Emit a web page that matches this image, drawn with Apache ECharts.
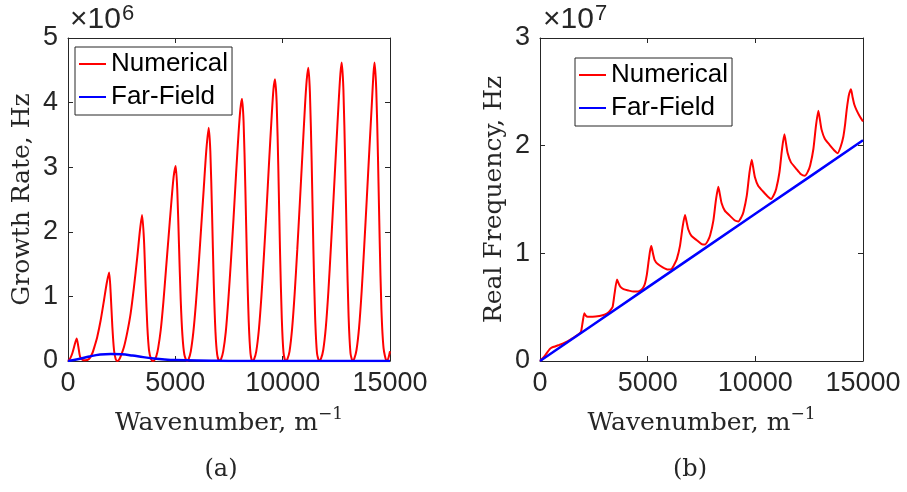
<!DOCTYPE html>
<html><head><meta charset="utf-8">
<script src="https://cdn.jsdelivr.net/npm/echarts@6/dist/echarts.min.js"></script>
<style>html,body{margin:0;padding:0;background:#fff}#c{width:907px;height:492px}</style>
</head><body><div id="c"></div>
<script>
// ---------- data ----------
const xTicks = [0, 5000, 10000, 15000];
const growthTicks = [0, 1, 2, 3, 4, 5];      // x10^6 Hz
const freqTicks = [0, 1, 2, 3];              // x10^7 Hz
const seriesNames = ['Numerical', 'Far-Field'];
const captions = ['(a)', '(b)'];

// Panel (a): growth rate, units of 1e6 Hz
const growthK = [0,100,202,326,405,482,560,667,800,978,
 1133,1250,1367,1522,1677,1801,1915,1988,2066,2143,2221,2299,
 2380,2454,2610,2765,2920,3075,3230,3354,3450,3540,3618,3696,3773,3870,3960,
 4040,4120,4200,4320,4440,4560,4680,4800,4920,5016,5090,5170,5250,5330,5420,5540,
 5620,5720,5840,5960,6080,6200,6320,6440,6553,6630,6710,6790,6870,6950,7050,
 7130,7230,7350,7470,7590,7710,7830,7950,8030,8106,8180,8260,8340,8420,8500,8587,
 8670,8770,8890,9010,9130,9250,9370,9490,9570,9643,9720,9800,9880,9960,10040,10140,
 10220,10320,10440,10560,10680,10800,10920,11040,11120,11196,11270,11350,11430,11510,11600,11707,
 11790,11890,12010,12130,12250,12370,12490,12610,12690,12750,12830,12910,12990,13070,13160,13262,
 13340,13440,13560,13680,13800,13920,14040,14160,14230,14280,14360,14440,14520,14600,14700,14845,14930,15000];
const growthNumerical = [0,0.04,0.12,0.27,0.35,0.22,0.07,0.02,0.01,0.03,
 0.12,0.24,0.38,0.63,0.94,1.2,1.37,1.05,0.53,0.17,0.03,0,
 0.02,0.07,0.22,0.45,0.74,1.15,1.62,2.03,2.26,1.87,1.15,0.53,0.17,0.03,0,
 0.02,0.08,0.20,0.48,0.90,1.40,1.90,2.40,2.85,3.02,2.65,1.80,0.95,0.40,0.10,0,
 0.03,0.15,0.45,0.90,1.45,2.05,2.65,3.25,3.61,3.25,2.30,1.20,0.45,0.10,0,
 0.03,0.15,0.45,0.95,1.55,2.2,2.9,3.55,3.9,4.06,3.7,2.7,1.5,0.6,0.12,0,
 0.03,0.15,0.48,1.0,1.65,2.35,3.1,3.8,4.2,4.36,4.0,2.95,1.65,0.65,0.13,0,
 0.03,0.15,0.5,1.05,1.72,2.45,3.2,3.95,4.35,4.54,4.15,3.1,1.75,0.7,0.12,0,
 0.04,0.17,0.52,1.08,1.78,2.52,3.28,4.02,4.45,4.62,4.2,3.1,1.75,0.7,0.12,0,
 0.04,0.17,0.52,1.08,1.78,2.52,3.28,4.02,4.45,4.62,4.2,3.15,1.85,0.8,0.2,0,0.05,0.15];
const growthFarK = [0,500,1000,1500,2000,2500,3000,3500,4000,4500,5000,6000,7000,8000,10000,15000];
const growthFarField = [0,0.03,0.07,0.10,0.11,0.105,0.085,0.06,0.04,0.025,0.015,0.006,0.003,0.001,0,0];

// Panel (b): real frequency, units of 1e7 Hz
const freqK = [0,150,300,450,540,700,900,1100,1300,1500,1700,
 1800,1904,1980,2059,2130,2214,2446,2755,2987,
 3100,3200,3300,3375,3466,3576,3651,3726,3876,4106,4346,4550,
 4690,4790,4876,4960,5031,5110,5170,5245,5320,5470,5700,5940,6113,
 6253,6353,6503,6623,6733,6808,6883,7033,7263,7503,7661,
 7801,7901,8051,8171,8281,8356,8431,8581,8811,9051,9211,
 9351,9451,9601,9721,9831,9906,9981,10131,10361,10601,10730,
 10870,10970,11120,11240,11350,11425,11500,11650,11880,12120,12306,
 12446,12546,12696,12816,12926,13001,13076,13226,13456,13696,13822,
 13962,14086,14170,14241,14310,14365,14442,14517,14600,14700,14860,15000];
const freqNumerical = [0,0.03,0.07,0.11,0.125,0.135,0.15,0.165,0.185,0.21,0.235,
 0.25,0.272,0.36,0.443,0.42,0.411,0.411,0.418,0.43,
 0.44,0.455,0.48,0.504,0.63,0.758,0.72,0.69,0.668,0.655,0.645,0.645,
 0.66,0.68,0.72,0.80,0.907,1.02,1.068,1.0,0.94,0.9,0.87,0.85,0.855,
 0.903,0.946,1.072,1.245,1.356,1.292,1.224,1.162,1.124,1.086,1.081,
 1.119,1.167,1.304,1.496,1.618,1.545,1.468,1.397,1.350,1.305,1.296,
 1.336,1.387,1.533,1.739,1.870,1.791,1.706,1.627,1.574,1.523,1.505,
 1.547,1.599,1.753,1.968,2.105,2.021,1.932,1.847,1.790,1.734,1.721,
 1.762,1.815,1.969,2.186,2.324,2.239,2.149,2.064,2.006,1.950,1.93,
 1.99,2.083,2.2,2.33,2.43,2.486,2.525,2.45,2.38,2.33,2.268,2.225];
const freqFarK = [0,2500,5000,7500,10000,12500,15000];
const freqFarField = [0,0.342,0.684,1.025,1.367,1.708,2.05];

// ---------- chart ----------
const zip = (a, b) => a.map((v, i) => [v, b[i]]);
const axisColor = '#262626';
const tickFont = { fontFamily: 'Liberation Sans, Arial', fontSize: 27, color: '#262626' };
const serif = 'DejaVu Serif';

function xAxis(grid, pos, name) {
  const main = pos === 'bottom';
  return {
    type: 'value', gridIndex: grid, position: pos,
    min: xTicks[0], max: xTicks[xTicks.length - 1], interval: xTicks[1] - xTicks[0],
    axisLine: { show: true, onZero: false, lineStyle: { color: axisColor, width: 1 } },
    axisTick: { show: true, inside: true, length: 5, lineStyle: { color: axisColor } },
    axisLabel: Object.assign({ show: main, margin: 9, formatter: v => String(v) }, tickFont),
    splitLine: { show: false },
    name: main ? name : '', nameLocation: 'middle', nameGap: 45,
    nameTextStyle: { rich: {
      n: { fontFamily: serif, fontSize: 25, color: '#262626', lineHeight: 34 },
      s: { fontFamily: serif, fontSize: 17, color: '#262626', verticalAlign: 'top', lineHeight: 17 }
    } }
  };
}
function yAxis(grid, pos, ticks, name) {
  const main = pos === 'left';
  return {
    type: 'value', gridIndex: grid, position: pos,
    min: ticks[0], max: ticks[ticks.length - 1], interval: ticks[1] - ticks[0],
    axisLine: { show: true, onZero: false, lineStyle: { color: axisColor, width: 1 } },
    axisTick: { show: true, inside: true, length: 5, lineStyle: { color: axisColor } },
    axisLabel: Object.assign({ show: main, margin: 10, formatter: v => String(v) }, tickFont),
    splitLine: { show: false },
    name: main ? name : '', nameLocation: 'middle', nameGap: 33, nameRotate: 90,
    nameTextStyle: { fontFamily: serif, fontSize: 25, color: '#262626' }
  };
}
function legend(left, top) {
  return {
    data: seriesNames.map(n => ({ name: n, icon: 'rect' })),
    orient: 'vertical', left: left, top: top,
    padding: [4, 4, 5, 4], itemGap: 7, itemWidth: 27, itemHeight: 2,
    backgroundColor: '#fff', borderColor: '#262626', borderWidth: 1,
    textStyle: { fontFamily: 'Liberation Sans, Arial', fontSize: 26, color: '#000', lineHeight: 26 },
    selectedMode: false
  };
}
function line(name, xi, yi, data, color, width, smooth) {
  return { type: 'line', name: name, xAxisIndex: xi, yAxisIndex: yi, data: data,
    symbol: 'none', showSymbol: false, animation: false, smooth: smooth,
    lineStyle: { color: color, width: width }, itemStyle: { color: color } };
}

const chart = echarts.init(document.getElementById('c'), null, { renderer: 'canvas' });
chart.setOption({
  animation: false,
  backgroundColor: '#fff',
  grid: [
    { left: 68, top: 38, width: 322, height: 323 },
    { left: 540, top: 38, width: 323, height: 323 }
  ],
  xAxis: [
    xAxis(0, 'bottom', '{n|Wavenumber, m}{s|−1}'),
    xAxis(0, 'top', ''),
    xAxis(1, 'bottom', '{n|Wavenumber, m}{s|−1}'),
    xAxis(1, 'top', '')
  ],
  yAxis: [
    yAxis(0, 'left', growthTicks, 'Growth Rate, Hz'),
    yAxis(0, 'right', growthTicks, ''),
    yAxis(1, 'left', freqTicks, 'Real Frequency, Hz'),
    yAxis(1, 'right', freqTicks, '')
  ],
  legend: [legend(75, 47), legend(575, 58)],
  series: [
    line(seriesNames[0], 0, 0, zip(growthK, growthNumerical), '#ff0000', 2, 0.25),
    line(seriesNames[1], 0, 0, zip(growthFarK, growthFarField), '#0000ff', 2.5, 0.4),
    line(seriesNames[0], 2, 2, zip(freqK, freqNumerical), '#ff0000', 2, 0.2),
    line(seriesNames[1], 2, 2, zip(freqFarK, freqFarField), '#0000ff', 2.5, false)
  ],
  graphic: [
    { type: 'text', style: { text: '×10', x: 70, y: 35, verticalAlign: 'bottom', fontFamily: 'Liberation Sans, Arial', fontSize: 30, fill: '#262626' } },
    { type: 'text', style: { text: '6', x: 122, y: 25, verticalAlign: 'bottom', fontFamily: 'Liberation Sans, Arial', fontSize: 22, fill: '#262626' } },
    { type: 'text', style: { text: '×10', x: 543, y: 35, verticalAlign: 'bottom', fontFamily: 'Liberation Sans, Arial', fontSize: 30, fill: '#262626' } },
    { type: 'text', style: { text: '7', x: 595, y: 25, verticalAlign: 'bottom', fontFamily: 'Liberation Sans, Arial', fontSize: 22, fill: '#262626' } },
    { type: 'text', style: { text: captions[0], x: 221, y: 470, align: 'center', verticalAlign: 'middle', fontFamily: serif, fontSize: 24, fill: '#262626' } },
    { type: 'text', style: { text: captions[1], x: 690, y: 470, align: 'center', verticalAlign: 'middle', fontFamily: serif, fontSize: 24, fill: '#262626' } }
  ]
});
</script>
</body></html>
